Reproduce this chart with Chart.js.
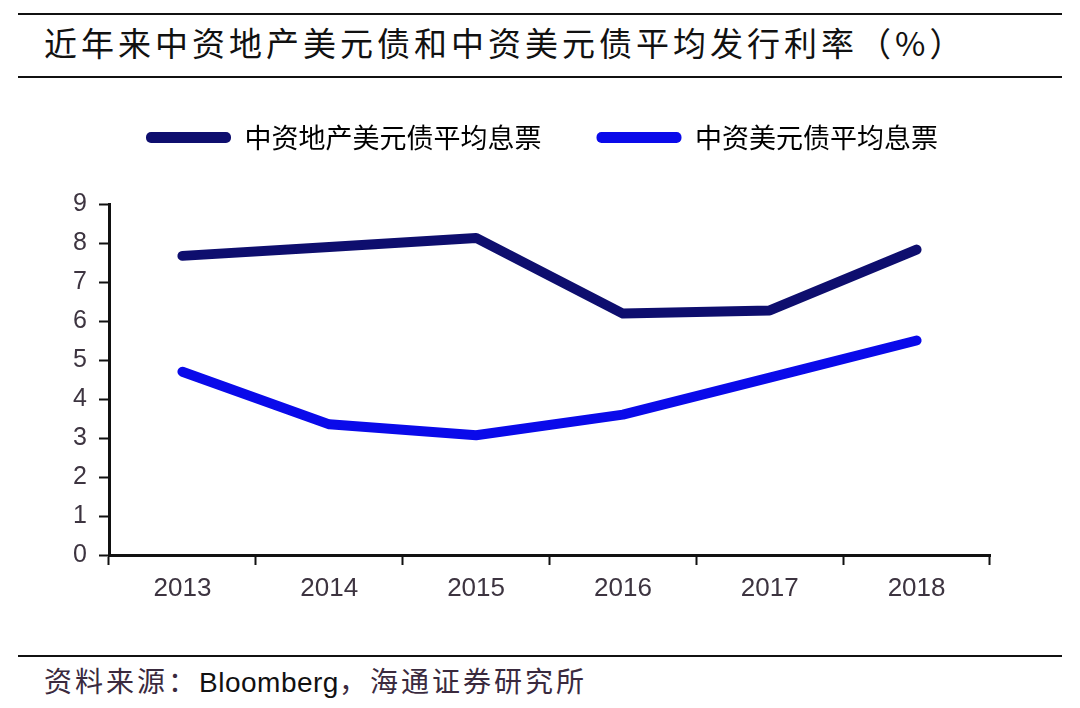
<!DOCTYPE html>
<html>
<head>
<meta charset="utf-8">
<script src="https://cdn.jsdelivr.net/npm/chart.js@4/dist/chart.umd.min.js"></script>
<style>
  body { margin: 0; background: #fff; }
  #wrap { position: relative; width: 1080px; height: 708px; overflow: hidden; background: #fff; }
  .rule { position: absolute; left: 18px; width: 1044px; height: 2px; background: #111; }
  #title { position: absolute; left: 44px; top: 20px; font: 33px "Noto Sans CJK SC", sans-serif; color: #111; letter-spacing: 4px; line-height: 44px; }
  #source { position: absolute; left: 44px; top: 660px; font: 28px "Noto Sans CJK SC", sans-serif; color: #3a2a3e; letter-spacing: 3px; line-height: 40px; }
  #source span { font-family: "Liberation Sans", Arial, sans-serif; color: #111; letter-spacing: 0.5px; }
  #box { position: absolute; left: 0; top: 69px; width: 1080px; height: 581px; }
</style>
</head>
<body>
<div id="wrap">
  <div class="rule" style="top:13px"></div>
  <div id="title">近年来中资地产美元债和中资美元债平均发行利率（%）</div>
  <div class="rule" style="top:76px"></div>
  <div id="box"><canvas id="grafico"></canvas></div>
  <div class="rule" style="top:655px"></div>
  <div id="source">资料来源：<span>Bloomberg</span>，海通证券研究所</div>
</div>
<script>
const anos = ['2013', '2014', '2015', '2016', '2017', '2018'];
const cupomImobiliario = [7.67, 7.9, 8.13, 6.19, 6.27, 7.83];
const cupomGeral = [4.7, 3.35, 3.07, 3.6, 4.55, 5.5];
const nomesSeries = ['中资地产美元债平均息票', '中资美元债平均息票'];
const ticksY = [0, 1, 2, 3, 4, 5, 6, 7, 8, 9];

const ctx = document.getElementById('grafico');

// espaço extra entre legenda e área do gráfico, e legenda centrada na página
const espacoLegenda = {
    id: 'espacoLegenda',
    beforeInit(chart) {
        const fitOriginal = chart.legend.fit;
        chart.legend.fit = function () {
            fitOriginal.bind(chart.legend)();
            this.height += 43;
        };
    },
    afterLayout(chart) {
        const legenda = chart.legend;
        const largura = legenda.right - legenda.left;
        legenda.left = 542 - largura / 2;
        legenda.right = legenda.left + largura;
    }
};

new Chart(ctx, {
    type: 'line',
    data: {
        labels: anos,
        datasets: [
            {
                label: nomesSeries[0],
                data: cupomImobiliario,
                borderColor: '#0e0e6e',
                backgroundColor: '#0e0e6e',
                borderWidth: 10,
                pointRadius: 0,
                tension: 0,
                borderCapStyle: 'round',
                borderJoinStyle: 'round'
            },
            {
                label: nomesSeries[1],
                data: cupomGeral,
                borderColor: '#0a0aea',
                backgroundColor: '#0a0aea',
                borderWidth: 10,
                pointRadius: 0,
                tension: 0,
                borderCapStyle: 'round',
                borderJoinStyle: 'round'
            }
        ]
    },
    plugins: [espacoLegenda],
    options: {
        responsive: true,
        maintainAspectRatio: false,
        animation: false,
        layout: { padding: { left: 20, right: 90, top: 0, bottom: 35 } },
        plugins: {
            tooltip: { enabled: false },
            legend: {
                position: 'top',
                labels: {
                    boxWidth: 85,
                    boxHeight: 11,
                    padding: 55,
                    color: '#3a2a3e',
                    font: { family: '"Noto Sans CJK SC", sans-serif', size: 27 },
                    generateLabels: (chart) => chart.data.datasets.map((ds, i) => ({
                        text: ds.label,
                        fillStyle: ds.borderColor,
                        strokeStyle: ds.borderColor,
                        lineWidth: 0,
                        borderRadius: 5,
                        datasetIndex: i
                    }))
                }
            }
        },
        scales: {
            x: {
                offset: true,
                afterFit: (s) => { s.height = 60; },
                grid: {
                    display: true,
                    offset: true,
                    drawOnChartArea: false,
                    drawTicks: true,
                    tickLength: 10,
                    tickWidth: 2,
                    tickColor: '#111'
                },
                border: { display: true, color: '#111', width: 3 },
                ticks: {
                    color: '#3d3440',
                    padding: 8,
                    font: { family: '"Liberation Sans", Arial, sans-serif', size: 26 }
                }
            },
            y: {
                min: 0,
                max: 9,
                afterFit: (s) => { s.width = 89; },
                afterBuildTicks: (s) => { s.ticks = ticksY.map(v => ({ value: v })); },
                grid: {
                    display: true,
                    drawOnChartArea: false,
                    drawTicks: true,
                    tickLength: 10,
                    tickWidth: 2,
                    tickColor: '#111'
                },
                border: { display: true, color: '#111', width: 3 },
                ticks: {
                    color: '#3d3440',
                    padding: 12,
                    font: { family: '"Liberation Sans", Arial, sans-serif', size: 25 }
                }
            }
        }
    }
});
</script>
</body>
</html>
